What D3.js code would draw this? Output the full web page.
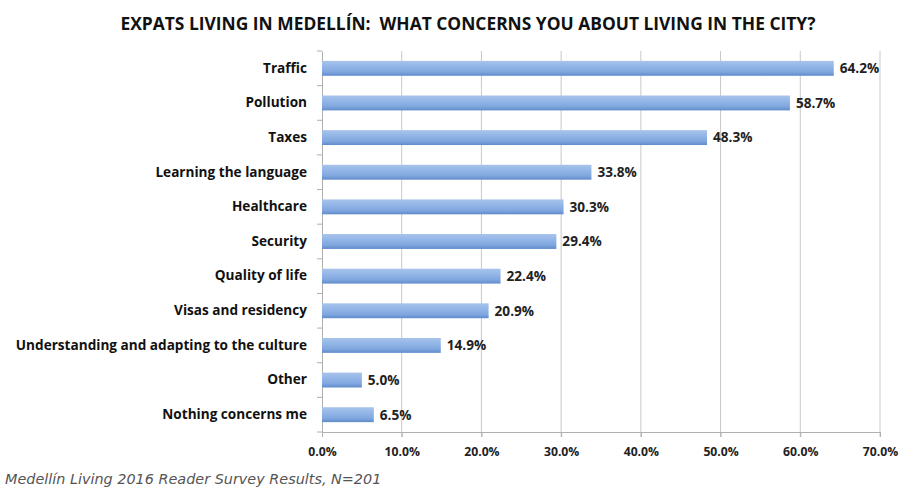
<!DOCTYPE html>
<html><head><meta charset="utf-8">
<script src="https://cdn.jsdelivr.net/npm/d3@7/dist/d3.min.js"></script>
<style>body{margin:0;background:#fff;}</style>
</head><body>
<svg id="c" width="899" height="488"></svg>
<script>
const categories = ["Traffic","Pollution","Taxes","Learning the language","Healthcare","Security","Quality of life","Visas and residency","Understanding and adapting to the culture","Other","Nothing concerns me"];
const values = [64.2,58.7,48.3,33.8,30.3,29.4,22.4,20.9,14.9,5.0,6.5];
const tickValues = [0,10,20,30,40,50,60,70];
const title = "EXPATS LIVING IN MEDELLÍN:  WHAT CONCERNS YOU ABOUT LIVING IN THE CITY?";
const footnote = "Medellín Living 2016 Reader Survey Results, N=201";

const F = "'Open Sans', Lato, sans-serif";
const svg = d3.select("#c");
const m = {left:322, right:880, top:51, bottom:432};
const x = d3.scaleLinear().domain([0,70]).range([m.left,m.right]);
const y = d3.scaleBand().domain(categories).range([m.top,m.bottom]).paddingInner(0.57).paddingOuter(0.285);

const defs = svg.append("defs");
const g = defs.append("linearGradient").attr("id","bg").attr("x1",0).attr("y1",0).attr("x2",0).attr("y2",1);
g.append("stop").attr("offset","0%").attr("stop-color","#a7c3ea");
g.append("stop").attr("offset","35%").attr("stop-color","#94b7e8");
g.append("stop").attr("offset","75%").attr("stop-color","#7fa6de");
g.append("stop").attr("offset","100%").attr("stop-color","#5f8bcb");

svg.append("text").attr("x",468).attr("y",30).attr("text-anchor","middle")
  .attr("xml:space","preserve").style("white-space","pre")
  .attr("font-family",F).attr("font-weight","bold").attr("font-size",17.4)
  .attr("fill","#111").text(title);

// gridlines
svg.append("g").selectAll("line").data(tickValues.slice(1)).join("line")
  .attr("x1",d=>x(d)).attr("x2",d=>x(d)).attr("y1",m.top).attr("y2",m.bottom+5)
  .attr("stroke","#c8c8c8").attr("stroke-width",1);

// x axis
const xa = svg.append("g").attr("transform",`translate(0,${m.bottom})`)
  .call(d3.axisBottom(x).tickValues(tickValues).tickSize(5).tickFormat(d=>d3.format(".1f")(d)+"%"));
xa.select(".domain").attr("stroke","#b0b0b0");
xa.selectAll(".tick line").attr("stroke","#b0b0b0");
xa.selectAll("text").attr("font-family",F).attr("font-weight","bold").attr("font-size",12.2).attr("fill","#222").attr("dy","1.35em");

// y axis
const ya = svg.append("g").attr("transform",`translate(${m.left},0)`)
  .call(d3.axisLeft(y).tickSize(0).tickPadding(15));
ya.select(".domain").attr("stroke","#b0b0b0");
ya.selectAll("text").attr("font-family",F).attr("font-weight","bold").attr("font-size",13.6).attr("fill","#111");
// category boundary ticks
const bounds = d3.range(categories.length+1).map(i=>m.top + i*(m.bottom-m.top)/categories.length);
svg.append("g").selectAll("line").data(bounds).join("line")
  .attr("x1",m.left-5).attr("x2",m.left).attr("y1",d=>d).attr("y2",d=>d).attr("stroke","#b0b0b0");

// bars
svg.append("g").selectAll("rect").data(values).join("rect")
  .attr("x",x(0)).attr("y",(d,i)=>y(categories[i])).attr("width",d=>x(d)-x(0)).attr("height",y.bandwidth())
  .attr("fill","url(#bg)");

svg.append("g").selectAll("text").data(values).join("text")
  .attr("x",d=>x(d)+6).attr("y",(d,i)=>y(categories[i])+y.bandwidth()/2).attr("dy","0.36em")
  .attr("font-family",F).attr("font-weight","bold").attr("font-size",13.6).attr("fill","#222")
  .text(d=>d3.format(".1f")(d)+"%");

svg.append("text").attr("x",5).attr("y",484).attr("font-family","'DejaVu Sans', sans-serif").attr("font-style","italic")
  .attr("font-size",14.4).attr("fill","#555").text(footnote);
</script>
</body></html>
